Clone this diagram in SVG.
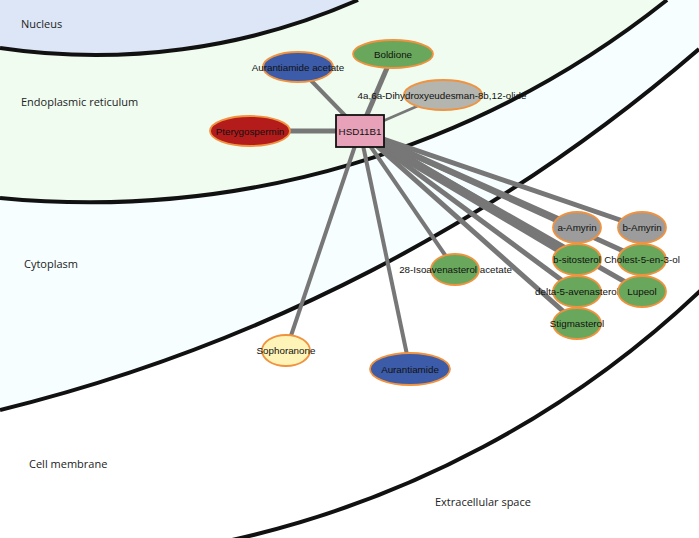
<svg xmlns="http://www.w3.org/2000/svg" width="699" height="538" viewBox="0 0 699 538">
<style>
.bound{fill:none;stroke:#111;stroke-width:4}
.region{font-family:"Open Sans","Liberation Sans",sans-serif;font-size:11px;fill:#222}
.edge{stroke:#777;fill:none;stroke-linecap:butt}
.node ellipse{stroke:#f0923e;stroke-width:1.8}
.lbl{font-family:"Liberation Sans",Arial,sans-serif;font-size:9.8px;fill:#111;text-anchor:middle}
.blue{fill:#3c5ba8}
.green{fill:#69a85c}
.gray{fill:#9c9c9c}
.lgray{fill:#b3b5ae}
.red{fill:#b41c1c}
.yellow{fill:#fff4b8}
</style>
<g id="background">
<rect x="0" y="0" width="699" height="538" fill="#ffffff"/>
<path d="M0 410 A1684 1684 0 0 0 699 49 L699 0 L0 0 Z" fill="#f6feff"/>
<path d="M0 198 A928 928 0 0 0 667 0 L0 0 Z" fill="#f0fcf0"/>
<path d="M0 48 A653 653 0 0 0 358 0 L0 0 Z" fill="#dde6f7"/>
<path class="bound" d="M0 48 A653 653 0 0 0 358 0"/>
<path class="bound" d="M0 198 A928 928 0 0 0 667 0"/>
<path class="bound" d="M0 410 A1684 1684 0 0 0 699 49"/>
<path class="bound" d="M232 540 A998 998 0 0 0 701 290"/>
<text class="region" x="21" y="28">Nucleus</text>
<text class="region" x="21" y="106">Endoplasmic reticulum</text>
<text class="region" x="24" y="268">Cytoplasm</text>
<text class="region" x="29" y="468">Cell membrane</text>
<text class="region" x="435" y="506">Extracellular space</text>
</g>
<g id="edges">
<line class="edge" x1="360" y1="131" x2="298" y2="67" stroke-width="4"/>
<line class="edge" x1="360" y1="131" x2="393" y2="54" stroke-width="5"/>
<line class="edge" x1="360" y1="131" x2="443" y2="95" stroke-width="2.5"/>
<line class="edge" x1="360" y1="131" x2="250" y2="131" stroke-width="5"/>
<line class="edge" x1="360" y1="131" x2="286" y2="350.5" stroke-width="4"/>
<line class="edge" x1="360" y1="131" x2="410" y2="369" stroke-width="4"/>
<line class="edge" x1="360" y1="131" x2="455" y2="269.5" stroke-width="4"/>
<line class="edge" x1="360" y1="131" x2="577" y2="291.5" stroke-width="5"/>
<line class="edge" x1="360" y1="131" x2="577" y2="323.5" stroke-width="5"/>
<line class="edge" x1="360" y1="131" x2="577" y2="259.5" stroke-width="9"/>
<line class="edge" x1="360" y1="131" x2="577" y2="227.5" stroke-width="6"/>
<line class="edge" x1="360" y1="131" x2="642" y2="227.5" stroke-width="5"/>
<line class="edge" x1="360" y1="131" x2="642" y2="259.5" stroke-width="5"/>
<line class="edge" x1="360" y1="131" x2="642" y2="291.5" stroke-width="5"/>
</g>
<g id="node-aurantiamide-acetate" class="node"><ellipse class="blue" cx="298" cy="67" rx="35" ry="15"/><text class="lbl" x="298" y="70.5">Aurantiamide acetate</text></g>
<g id="node-boldione" class="node"><ellipse class="green" cx="393" cy="54" rx="40" ry="14"/><text class="lbl" x="393" y="57.5">Boldione</text></g>
<g id="node-dihydroxyeudesman" class="node"><ellipse class="lgray" cx="443" cy="95" rx="39" ry="15"/><text class="lbl" x="442" y="98.5">4a,6a-Dihydroxyeudesman-8b,12-olide</text></g>
<g id="node-pterygospermin" class="node"><ellipse class="red" cx="250" cy="131" rx="40" ry="15"/><text class="lbl" x="250" y="134.5">Pterygospermin</text></g>
<g id="node-sophoranone" class="node"><ellipse class="yellow" cx="286" cy="350.5" rx="24" ry="15.5"/><text class="lbl" x="286" y="354">Sophoranone</text></g>
<g id="node-aurantiamide" class="node"><ellipse class="blue" cx="410" cy="369" rx="40" ry="16"/><text class="lbl" x="410" y="372.5">Aurantiamide</text></g>
<g id="node-28-isoavenasterol-acetate" class="node"><ellipse class="green" cx="455" cy="269.5" rx="24" ry="15.5"/><text class="lbl" x="455.5" y="273">28-Isoavenasterol acetate</text></g>
<g id="node-a-amyrin" class="node"><ellipse class="gray" cx="577" cy="227.5" rx="24" ry="15.5"/><text class="lbl" x="577" y="231">a-Amyrin</text></g>
<g id="node-b-amyrin" class="node"><ellipse class="gray" cx="642" cy="227.5" rx="24" ry="15.5"/><text class="lbl" x="642" y="231">b-Amyrin</text></g>
<g id="node-b-sitosterol" class="node"><ellipse class="green" cx="577" cy="259.5" rx="24" ry="15.5"/><text class="lbl" x="577" y="263">b-sitosterol</text></g>
<g id="node-cholest-5-en-3-ol" class="node"><ellipse class="green" cx="642" cy="259.5" rx="24" ry="15.5"/><text class="lbl" x="642" y="263">Cholest-5-en-3-ol</text></g>
<g id="node-delta-5-avenasterol" class="node"><ellipse class="green" cx="577" cy="291.5" rx="24" ry="15.5"/><text class="lbl" x="577" y="295">delta-5-avenasterol</text></g>
<g id="node-lupeol" class="node"><ellipse class="green" cx="642" cy="291.5" rx="24" ry="15.5"/><text class="lbl" x="642" y="295">Lupeol</text></g>
<g id="node-stigmasterol" class="node"><ellipse class="green" cx="577" cy="323.5" rx="24" ry="15.5"/><text class="lbl" x="577" y="327">Stigmasterol</text></g>
<g id="node-hsd11b1" class="node"><rect x="336" y="115" width="48" height="32" fill="#e7a1b8" stroke="#111" stroke-width="1.8"/><text class="lbl" x="360" y="134.5">HSD11B1</text></g>
</svg>
